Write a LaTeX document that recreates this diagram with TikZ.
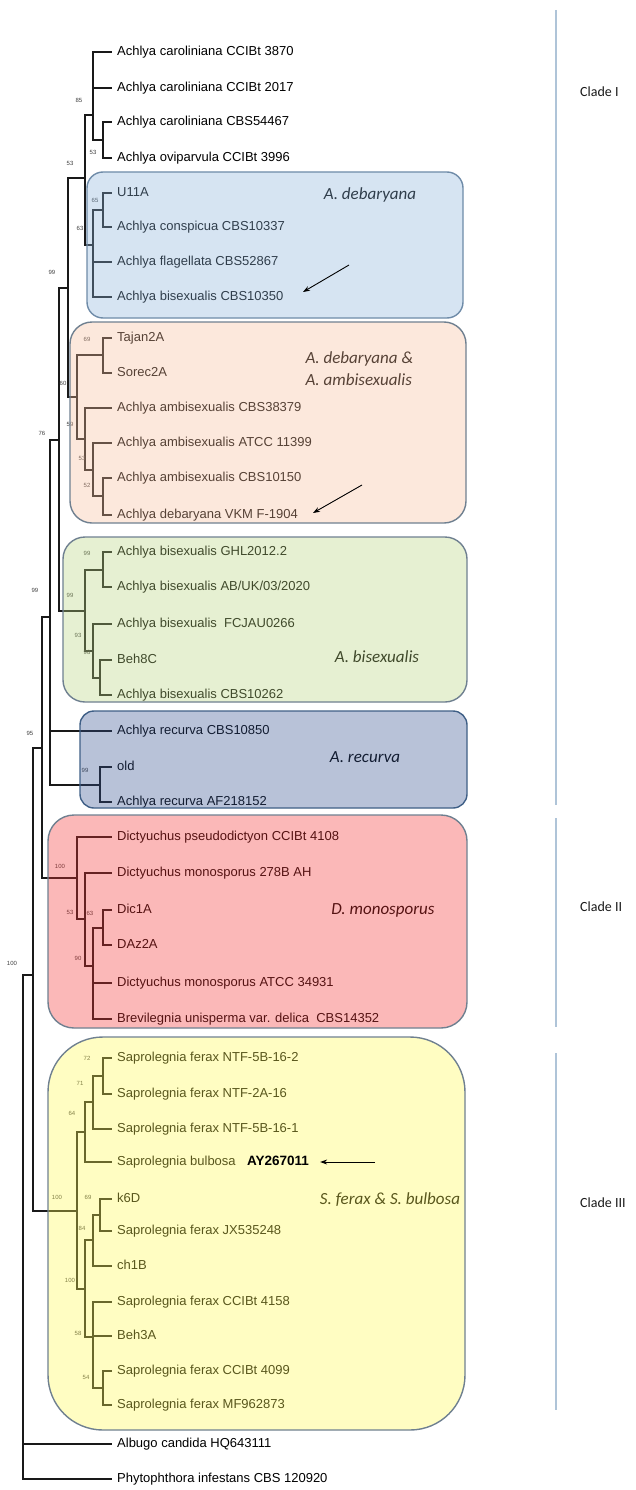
\documentclass[tikz,border=0pt]{standalone}
\usepackage{fontspec}
\setmainfont{Liberation Sans}
\newfontfamily\calfont{Carlito}
\usetikzlibrary{arrows.meta}
\definecolor{bxblue}{HTML}{8AB2DA}
\definecolor{bxorange}{HTML}{F7BD9B}
\definecolor{bxgreen}{HTML}{B8D47E}
\definecolor{bxrec}{HTML}{34518F}
\definecolor{bxred}{HTML}{F43434}
\definecolor{bxyellow}{HTML}{FFF951}
\definecolor{bdblue}{HTML}{6E8BA8}
\definecolor{bdgray}{HTML}{6F8090}
\definecolor{bdrec}{HTML}{3F5F86}
\definecolor{cladeln}{HTML}{AFC4D8}
\tikzset{
  leaf/.style={anchor=west, inner xsep=6pt, inner ysep=0pt, text height=9.5pt, text depth=2.7pt, font=\fontsize{13}{15}\selectfont, text=black},
  br/.style={line width=1.2pt, draw=black!90, line cap=rect},
  sup/.style={font=\fontsize{6}{7}\selectfont, text=black!75, inner sep=0pt},
  boxlbl/.style={font=\calfont\itshape\fontsize{17}{22}\selectfont, text=black},
  cladebox/.style={line width=1.4pt, rounded corners=#1, fill opacity=0.35},
  cladeline/.style={line width=2.5pt, draw=cladeln},
  cladelbl/.style={anchor=west, font=\calfont\fontsize{14}{16}\selectfont, text=black!90, inner sep=0pt},
  arr/.style={line width=0.9pt, -{Stealth[length=7pt,width=5pt]}},
}
\begin{document}
\begin{tikzpicture}[x=1pt,y=-1pt]
\useasboundingbox (0,0) rectangle (635,1490);
% ---------- leaves ----------
\node[leaf] (L1) at (111,52) {Achlya caroliniana CCIBt 3870};
\node[leaf] (L2) at (111,88) {Achlya caroliniana CCIBt 2017};
\node[leaf] (L3) at (111,122) {Achlya caroliniana CBS54467};
\node[leaf] (L4) at (111,158) {Achlya oviparvula CCIBt 3996};
\node[leaf] (L5) at (111,193) {U11A};
\node[leaf] (L6) at (111,227) {Achlya conspicua CBS10337};
\node[leaf] (L7) at (111,262) {Achlya flagellata CBS52867};
\node[leaf] (L8) at (111,297) {Achlya bisexualis CBS10350};
\node[leaf] (L9) at (111,338) {Tajan2A};
\node[leaf] (L10) at (111,373) {Sorec2A};
\node[leaf] (L11) at (111,408) {Achlya ambisexualis CBS38379};
\node[leaf] (L12) at (111,443) {Achlya ambisexualis ATCC 11399};
\node[leaf] (L13) at (111,478) {Achlya ambisexualis CBS10150};
\node[leaf] (L14) at (111,515) {Achlya debaryana VKM F-1904};
\node[leaf] (L15) at (111,552) {Achlya bisexualis GHL2012.2};
\node[leaf] (L16) at (111,587) {Achlya bisexualis AB/UK/03/2020};
\node[leaf] (L17) at (111,624) {Achlya bisexualis \ FCJAU0266};
\node[leaf] (L18) at (111,660) {Beh8C};
\node[leaf] (L19) at (111,695) {Achlya bisexualis CBS10262};
\node[leaf] (L20) at (111,731) {Achlya recurva CBS10850};
\node[leaf] (L21) at (111,767) {old};
\node[leaf] (L22) at (111,802) {Achlya recurva AF218152};
\node[leaf] (L23) at (111,837) {Dictyuchus pseudodictyon CCIBt 4108};
\node[leaf] (L24) at (111,873) {Dictyuchus monosporus 278B AH};
\node[leaf] (L25) at (111,910) {Dic1A};
\node[leaf] (L26) at (111,945) {DAz2A};
\node[leaf] (L27) at (111,983) {Dictyuchus monosporus ATCC 34931};
\node[leaf] (L28) at (111,1019) {Brevilegnia unisperma var. delica \ CBS14352};
\node[leaf] (L29) at (111,1058) {Saprolegnia ferax NTF-5B-16-2};
\node[leaf] (L30) at (111,1094) {Saprolegnia ferax NTF-2A-16};
\node[leaf] (L31) at (111,1129) {Saprolegnia ferax NTF-5B-16-1};
\node[leaf] (L32) at (111,1162) {Saprolegnia bulbosa};
\node[leaf] (L33) at (111,1199) {k6D};
\node[leaf] (L34) at (111,1231) {Saprolegnia ferax JX535248};
\node[leaf] (L35) at (111,1266) {ch1B};
\node[leaf] (L36) at (111,1302) {Saprolegnia ferax CCIBt 4158};
\node[leaf] (L37) at (111,1336) {Beh3A};
\node[leaf] (L38) at (111,1371) {Saprolegnia ferax CCIBt 4099};
\node[leaf] (L39) at (111,1405) {Saprolegnia ferax MF962873};
\node[leaf] (L40) at (111,1444) {Albugo candida HQ643111};
\node[leaf] (L41) at (111,1479) {Phytophthora infestans CBS 120920};
% ---------- internal nodes ----------
\coordinate (a34) at (103,140);
\coordinate (N1) at (93,115);
\coordinate (a56) at (103,210);
\coordinate (B) at (93,245);
\coordinate (N2) at (85,178);
\coordinate (o1) at (103,355);
\coordinate (o2) at (103,496);
\coordinate (o3) at (93,470);
\coordinate (o4) at (85,439);
\coordinate (o5) at (77,397);
\coordinate (N3) at (68,288);
\coordinate (g1) at (103,570);
\coordinate (g2) at (100,678);
\coordinate (g3) at (93,651);
\coordinate (g4) at (85,611);
\coordinate (N4) at (59,440);
\coordinate (r21) at (100,785);
\coordinate (N5) at (50,617);
\coordinate (d1) at (103,928);
\coordinate (d2) at (93,966);
\coordinate (d3) at (85,919);
\coordinate (d4) at (77,878);
\coordinate (N6) at (42,748);
\coordinate (s1) at (103,1076);
\coordinate (s2) at (93,1102);
\coordinate (s3) at (85,1132);
\coordinate (s4) at (100,1215);
\coordinate (s5) at (93,1240);
\coordinate (s6) at (103,1388);
\coordinate (s7) at (93,1337);
\coordinate (s8) at (85,1289);
\coordinate (s9) at (77,1211);
\coordinate (N7) at (33,975);
\coordinate (R) at (23,1200);
% ---------- branches ----------
\foreach \p/\c in {N1/L1,N1/L2,N1/a34,a34/L3,a34/L4,
  a56/L5,a56/L6,B/a56,B/L7,B/L8,N2/N1,N2/B,
  o1/L9,o1/L10,o2/L13,o2/L14,o3/L12,o3/o2,o4/L11,o4/o3,o5/o1,o5/o4,N3/N2,N3/o5,
  g1/L15,g1/L16,g2/L18,g2/L19,g3/L17,g3/g2,g4/g1,g4/g3,N4/N3,N4/g4,
  r21/L21,r21/L22,N5/N4,N5/L20,N5/r21,
  d1/L25,d1/L26,d2/d1,d2/L27,d2/L28,d3/L24,d3/d2,d4/L23,d4/d3,N6/N5,N6/d4,
  s1/L29,s1/L30,s2/s1,s2/L31,s3/s2,s3/L32,s4/L33,s4/L34,s5/s4,s5/L35,
  s6/L38,s6/L39,s7/L36,s7/L37,s7/s6,s8/s5,s8/s7,s9/s3,s9/s8,
  N7/N6,N7/s9,R/N7,R/L40,R/L41}
  \draw[br] (\p) |- (\c);
% ---------- support values ----------
\node[sup] (b1) at (79,100) {85};
\node[sup] (b2) at (93,152) {53};
\node[sup] (b3) at (70,163) {53};
\node[sup] (b4) at (95,200) {65};
\node[sup] (b5) at (80,228) {63};
\node[sup] (b6) at (52,272) {99};
\node[sup] (b7) at (87,339) {69};
\node[sup] (b8) at (63,383) {60};
\node[sup] (b9) at (70,424) {59};
\node[sup] (b10) at (82,458) {53};
\node[sup] (b11) at (87,485) {52};
\node[sup] (b12) at (42,433) {76};
\node[sup] (b13) at (87,553) {99};
\node[sup] (b14) at (70,595) {99};
\node[sup] (b15) at (78,635) {93};
\node[sup] (b16) at (87,652) {98};
\node[sup] (b17) at (35,590) {99};
\node[sup] (b18) at (30,733) {95};
\node[sup] (b19) at (85,770) {99};
\node[sup] (b20) at (60,866) {100};
\node[sup] (b21) at (70,912) {53};
\node[sup] (b22) at (90,913) {63};
\node[sup] (b23) at (78,958) {90};
\node[sup] (b24) at (12,963) {100};
\node[sup] (b25) at (87,1058) {72};
\node[sup] (b26) at (80,1083) {71};
\node[sup] (b27) at (72,1113) {64};
\node[sup] (b28) at (57,1197) {100};
\node[sup] (b29) at (88,1197) {69};
\node[sup] (b30) at (82,1228) {84};
\node[sup] (b31) at (70,1280) {100};
\node[sup] (b32) at (78,1333) {58};
\node[sup] (b33) at (86,1377) {54};
% ---------- group labels ----------
\node[boxlbl] (t1) at (370,195) {A. debaryana};
\node[boxlbl, anchor=west, align=left] (t2) at (302,369) {A. debaryana \&\\A. ambisexualis};
\node[boxlbl] (t3) at (377,657) {A. bisexualis};
\node[boxlbl] (t4) at (365,757) {A. recurva};
\node[boxlbl] (t5) at (383,910) {D. monosporus};
\node[boxlbl] (t6) at (390,1200) {S. ferax \& S. bulbosa};
% ---------- coloured boxes ----------
\draw[cladebox=16pt, fill=bxblue, draw=bdblue] (87,172) rectangle (463,318);
\draw[cladebox=22pt, fill=bxorange, draw=bdgray] (70,322) rectangle (466,523);
\draw[cladebox=22pt, fill=bxgreen, draw=bdgray] (63,537) rectangle (467,702);
\draw[cladebox=14pt, fill=bxrec, draw=bdrec] (80,711) rectangle (467,808);
\draw[cladebox=26pt, fill=bxred, draw=bdgray] (48,815) rectangle (467,1028);
\draw[cladebox=55pt, fill=bxyellow, draw=bdgray] (48,1037) rectangle (465,1430);
% ---------- arrows ----------
\node[anchor=base west, inner sep=0pt, font=\bfseries\fontsize{13.5}{15}\selectfont] (ay) at ([xshift=5pt]L32.base east) {AY267011};
\coordinate (ar1s) at (349,265);
\coordinate (ar1e) at (303,292);
\coordinate (ar2s) at (362,485);
\coordinate (ar2e) at (313,513);
\coordinate (ar3s) at (375,1162);
\draw[arr] (ar1s) -- (ar1e);
\draw[arr] (ar2s) -- (ar2e);
\draw[arr] (ar3s) -- ([xshift=11pt]ay.east |- ar3s);
% ---------- clade bars ----------
\coordinate (c1a) at (556,10);
\coordinate (c1b) at (556,805);
\coordinate (c2a) at (556,818);
\coordinate (c2b) at (556,1027);
\coordinate (c3a) at (556,1053);
\coordinate (c3b) at (556,1410);
\draw[cladeline] (c1a) -- (c1b);
\draw[cladeline] (c2a) -- (c2b);
\draw[cladeline] (c3a) -- (c3b);
\node[cladelbl] (k1) at (580,92) {Clade I};
\node[cladelbl] (k2) at (580,907) {Clade II};
\node[cladelbl] (k3) at (580,1203) {Clade III};
\end{tikzpicture}
\end{document}
